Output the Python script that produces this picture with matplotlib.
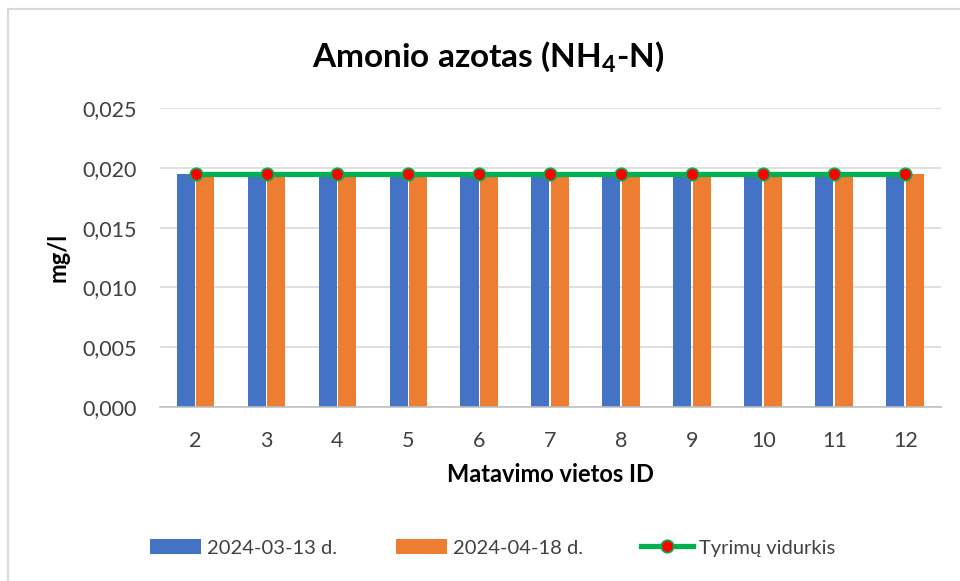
import matplotlib
matplotlib.use("Agg")
import matplotlib.pyplot as plt
from matplotlib.lines import Line2D
import numpy as np

plt.rcParams['font.family'] = ['Lato', 'DejaVu Sans']
plt.rcParams['mathtext.fontset'] = 'custom'
plt.rcParams['mathtext.rm'] = 'Lato:bold'

sites = ['2', '3', '4', '5', '6', '7', '8', '9', '10', '11', '12']
march = [0.0195, 0.0195, 0.0195, 0.0195, 0.0195, 0.0195, 0.0195, 0.0195, 0.0195, 0.0195, 0.0195]
april = [0.0195, 0.0195, 0.0195, 0.0195, 0.0195, 0.0195, 0.0195, 0.0195, 0.0195, 0.0195, 0.0195]
average = [0.0195, 0.0195, 0.0195, 0.0195, 0.0195, 0.0195, 0.0195, 0.0195, 0.0195, 0.0195, 0.0195]
yticks = [0, 0.005, 0.010, 0.015, 0.020, 0.025]

fig = plt.figure(figsize=(9.6, 5.81), dpi=100)
ax = fig.add_axes([0.1667, 0.2995, 0.8133, 0.5145])

x = np.arange(len(sites))
w = 0.254
b1 = ax.bar(x - 0.14, march, width=w, color='#4472C4', label='2024-03-13 d.', zorder=2)
b2 = ax.bar(x + 0.14, april, width=w, color='#ED7D31', label='2024-04-18 d.', zorder=2)
ln, = ax.plot(x, average, color='#00B050', lw=3.8, marker='o', markersize=9,
              markerfacecolor='#FF0000', markeredgecolor='#00B050', markeredgewidth=1.2,
              label='Tyrimų vidurkis', zorder=3)

ax.set_xlim(-0.5, len(sites) - 0.5)
ax.set_ylim(0, 0.025)
ax.set_yticks(yticks)
ax.set_yticklabels([f"{v:.3f}".replace('.', ',') for v in yticks])
ax.set_xticks(x)
ax.set_xticklabels(sites)
ax.tick_params(axis='both', length=0, labelsize=15.5, colors='#404040')
ax.tick_params(axis='x', pad=17)
ax.tick_params(axis='y', pad=17)
ax.grid(axis='y', color='#d9d9d9', lw=1.2, zorder=0)
for s in ['top', 'right', 'left']:
    ax.spines[s].set_visible(False)
ax.spines['bottom'].set_color('#bfbfbf')
ax.spines['bottom'].set_linewidth(1.2)

ax.set_xlabel('Matavimo vietos ID', fontsize=17, fontweight='bold', labelpad=9)
ax.set_ylabel('mg/l', fontsize=17, fontweight='bold', labelpad=9)

fig.text(0.508, 0.902, 'Amonio azotas (NH$_4$-N)', fontsize=24, fontweight='bold',
         ha='center', va='center')

fig.legend(handles=[b1, b2, ln], loc='center', bbox_to_anchor=(0.513, 0.057), ncol=3,
           frameon=False, fontsize=14.5, handlelength=2.55, handleheight=0.8,
           columnspacing=2.9, handletextpad=0.3, labelcolor='#404040')

# chart border
fig.add_artist(Line2D([8 / 960, 8 / 960], [0, 1 - 9 / 581], color='#d9d9d9', lw=1.5,
                      transform=fig.transFigure))
fig.add_artist(Line2D([8 / 960, 1], [1 - 9 / 581, 1 - 9 / 581], color='#d9d9d9', lw=1.5,
                      transform=fig.transFigure))

fig.savefig('out.png', dpi=100)
